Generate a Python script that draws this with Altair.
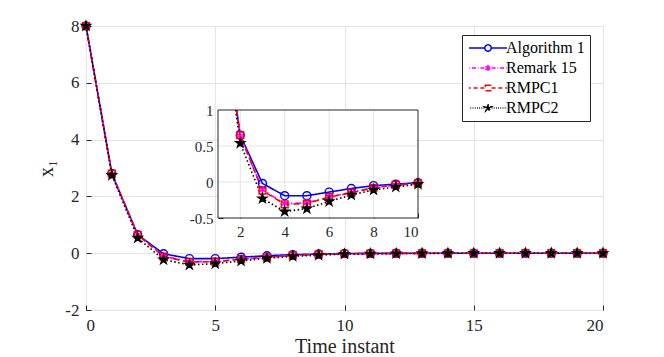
import altair as alt
import pandas as pd

t = list(range(21))
alg1 = [8, 2.80, 0.65, -0.02, -0.19, -0.19, -0.14, -0.09, -0.05, -0.03, -0.01,
        -0.006, -0.004, -0.002, -0.001, 0, 0, 0, 0, 0, 0]
remark15 = [8, 2.79, 0.64, -0.11, -0.30, -0.29, -0.21, -0.14, -0.08, -0.045, -0.02,
            -0.012, -0.007, -0.004, -0.002, -0.001, 0, 0, 0, 0, 0]
rmpc1 = [8, 2.80, 0.65, -0.12, -0.31, -0.30, -0.21, -0.15, -0.08, -0.04, -0.02,
         -0.012, -0.007, -0.004, -0.002, -0.001, 0, 0, 0, 0, 0]
rmpc2 = [8, 2.75, 0.54, -0.23, -0.41, -0.37, -0.27, -0.18, -0.11, -0.07, -0.03,
         -0.02, -0.012, -0.007, -0.004, -0.002, -0.001, 0, 0, 0, 0]

names = ["Algorithm 1", "Remark 15", "RMPC1", "RMPC2"]
colors = ["#0000ff", "#ff00ff", "#ff0000", "#000000"]
dashes = [[1, 0], [6, 3, 1.5, 3], [6, 4], [1.5, 2.5]]
fills = ["transparent", "transparent", "transparent", "#000000"]

inset_x_domain = [1, 10]
inset_y_domain = [-0.5, 1]
inset_xticks = [2, 4, 6, 8, 10]
inset_yticks = [-0.5, 0, 0.5, 1]


def marker_paths(k):
    star_pts = [(0, -1.15), (0.26, -0.36), (1.09, -0.36), (0.42, 0.14), (0.68, 0.93),
                (0, 0.44), (-0.68, 0.93), (-0.42, 0.14), (-1.09, -0.36), (-0.26, -0.36)]
    star = "M" + "L".join(f"{x * k:.3f},{y * k:.3f}" for x, y in star_pts) + "Z"
    a = 0.87 * k
    h = 0.5 * k
    asterisk = (f"M0,{-k:.3f}L0,{k:.3f}M{-a:.3f},{-h:.3f}L{a:.3f},{h:.3f}"
                f"M{-a:.3f},{h:.3f}L{a:.3f},{-h:.3f}")
    q = 0.85 * k
    square = f"M{-q:.3f},{-q:.3f}L{q:.3f},{-q:.3f}L{q:.3f},{q:.3f}L{-q:.3f},{q:.3f}Z"
    circle = f"M{k:.3f},0A{k:.3f},{k:.3f},0,1,1,{-k:.3f},0A{k:.3f},{k:.3f},0,1,1,{k:.3f},0Z"
    return [circle, asterisk, square, star]


markers = marker_paths(1.0)
leg_markers = marker_paths(0.8)


def seg_path(pattern, half=4.75, gap_in=0.9):
    out = []
    for sign in (-1, 1):
        pos = gap_in
        i = 0
        while pos < half:
            ln = pattern[i % len(pattern)]
            end = min(pos + ln, half)
            if i % 2 == 0:
                a, b = sign * pos, sign * end
                out.append(f"M{a:.2f},0L{b:.2f},0")
            pos = end
            i += 1
    return "".join(out)


leg_patterns = [[10, 0], [1.0, 0.45, 0.2, 0.45], [1.0, 0.7], [0.2, 0.35]]
legend_shapes = [seg_path(p) + m for p, m in zip(leg_patterns, leg_markers)]

series = [alg1, remark15, rmpc1, rmpc2]
rows = []
for n, vals in zip(names, series):
    for ti, v in zip(t, vals):
        rows.append({"t": ti, "v": v, "s": n, "d": n})
df = pd.DataFrame(rows)

irows = []
for n, vals in zip(names, series):
    y1, y2 = vals[1], vals[2]
    tc = 1 + (y1 - inset_y_domain[1]) / (y1 - y2)
    irows.append({"t": tc, "v": inset_y_domain[1], "s": n, "d": n, "m": False})
    for ti, v in zip(t[2:11], vals[2:11]):
        irows.append({"t": ti, "v": v, "s": n, "d": n, "m": True})
idf = pd.DataFrame(irows)

FONT = "Liberation Serif"
W, H = 517, 284
GRID = "#e4e4e4"
AX = "#262626"
LBL = "datum.value + ''"
TK = 5

stroke_scale = alt.Scale(domain=names, range=colors)
dash_scale = alt.Scale(domain=names, range=dashes)
shape_scale = alt.Scale(domain=names, range=legend_shapes)
fill_scale = alt.Scale(domain=names, range=fills)

leg = alt.Legend(title=None, orient="none", legendX=376, legendY=9)

mx = alt.Scale(domain=[0, 20], nice=False)
my = alt.Scale(domain=[-2, 8], nice=False)
main_xaxis = alt.Axis(values=[0, 5, 10, 15, 20], title="Time instant", titlePadding=3,
                      labelFont=FONT, labelFontSize=17, labelExpr=LBL,
                      offset=-TK, ticks=True, tickSize=TK, tickColor=AX)
main_yaxis = alt.Axis(values=[-2, 0, 2, 4, 6, 8], title="x₁", titlePadding=8,
                      labelFont=FONT, labelFontSize=17, labelExpr=LBL,
                      offset=-TK, ticks=True, tickSize=TK, tickColor=AX)

main_line = alt.Chart(df).mark_line(strokeWidth=1.6).encode(
    x=alt.X("t:Q", scale=mx, axis=main_xaxis),
    y=alt.Y("v:Q", scale=my, axis=main_yaxis),
    stroke=alt.Stroke("s:N", scale=stroke_scale, legend=leg),
    strokeDash=alt.StrokeDash("d:N", scale=dash_scale, legend=None),
    detail="s:N",
)

MS = 64
pt_layers = []
for n, c, m, f in zip(names, colors, markers, fills):
    pt_layers.append(
        alt.Chart(df).transform_filter(alt.datum.s == n).mark_point(
            shape=m, size=MS, stroke=c, fill=f,
            strokeWidth=1.4, opacity=1, filled=(n == "RMPC2")).encode(
            x=alt.X("t:Q", scale=mx, axis=main_xaxis),
            y=alt.Y("v:Q", scale=my, axis=main_yaxis),
        )
    )

legend_layer = alt.Chart(df).transform_filter("datum.t > 100").mark_point(
    strokeWidth=1.5, opacity=1).encode(
    x=alt.X("t:Q", scale=mx, axis=main_xaxis),
    y=alt.Y("v:Q", scale=my, axis=main_yaxis),
    stroke=alt.Stroke("s:N", scale=stroke_scale, legend=leg),
    shape=alt.Shape("s:N", scale=shape_scale, legend=leg),
    fill=alt.Fill("s:N", scale=fill_scale, legend=leg),
)

main = alt.layer(main_line, *pt_layers, legend_layer)

ix = alt.Scale(domain=inset_x_domain, range=[132, 332], nice=False)
iy = alt.Scale(domain=inset_y_domain, range=[192, 84], nice=False)
ixaxis = alt.Axis(orient="bottom", offset=-92 - TK, values=inset_xticks, grid=False,
                  domain=False, ticks=True, tickSize=TK, tickColor=AX,
                  labelPadding=6, title=None,
                  labelFont=FONT, labelFontSize=15, labelExpr=LBL)
iyaxis = alt.Axis(orient="left", offset=-132 - TK, values=inset_yticks, grid=False,
                  domain=False, ticks=True, tickSize=TK, tickColor=AX,
                  labelPadding=5, title=None,
                  labelFont=FONT, labelFontSize=15, labelExpr=LBL)

box_df = pd.DataFrame({"x": [inset_x_domain[0]], "x2": [inset_x_domain[1]],
                       "y": [inset_y_domain[0]], "y2": [inset_y_domain[1]]})
inset_bg = alt.Chart(box_df).mark_rect(fill="white").encode(
    x=alt.X("x:Q", scale=ix, axis=ixaxis), x2="x2:Q",
    y=alt.Y("y:Q", scale=iy, axis=iyaxis), y2="y2:Q",
)

gx_df = pd.DataFrame({"x": [2, 4, 6, 8], "y": [inset_y_domain[0]] * 4,
                      "y2": [inset_y_domain[1]] * 4})
gy_df = pd.DataFrame({"y": [0, 0.5], "x": [inset_x_domain[0]] * 2,
                      "x2": [inset_x_domain[1]] * 2})
inset_gx = alt.Chart(gx_df).mark_rule(color=GRID, strokeWidth=1).encode(
    x=alt.X("x:Q", scale=ix, axis=ixaxis), y=alt.Y("y:Q", scale=iy, axis=iyaxis),
    y2="y2:Q")
inset_gy = alt.Chart(gy_df).mark_rule(color=GRID, strokeWidth=1).encode(
    y=alt.Y("y:Q", scale=iy, axis=iyaxis), x=alt.X("x:Q", scale=ix, axis=ixaxis),
    x2="x2:Q")

inset_line = alt.Chart(idf).mark_line(strokeWidth=1.6).encode(
    x=alt.X("t:Q", scale=ix, axis=ixaxis),
    y=alt.Y("v:Q", scale=iy, axis=iyaxis),
    stroke=alt.Stroke("s:N", scale=stroke_scale, legend=leg),
    strokeDash=alt.StrokeDash("d:N", scale=dash_scale, legend=None),
    detail="s:N",
)
ipt_layers = []
for n, c, m, f in zip(names, colors, markers, fills):
    ipt_layers.append(
        alt.Chart(idf).transform_filter(alt.datum.m).transform_filter(alt.datum.s == n)
        .mark_point(shape=m, size=MS, stroke=c, fill=f,
                    strokeWidth=1.4, opacity=1, filled=(n == "RMPC2")).encode(
            x=alt.X("t:Q", scale=ix, axis=ixaxis),
            y=alt.Y("v:Q", scale=iy, axis=iyaxis),
        )
    )
inset_frame = alt.Chart(box_df).mark_rect(fill="transparent", stroke=AX,
                                          strokeWidth=1).encode(
    x=alt.X("x:Q", scale=ix, axis=ixaxis), x2="x2:Q",
    y=alt.Y("y:Q", scale=iy, axis=iyaxis), y2="y2:Q")

inset = alt.layer(inset_bg, inset_gx, inset_gy, inset_line, *ipt_layers, inset_frame)

chart = alt.layer(main, inset).resolve_scale(x="independent", y="independent").properties(
    width=W, height=H,
    autosize=alt.AutoSizeParams(type="none"),
    padding={"left": 78, "top": 18, "right": 10, "bottom": 45},
).configure_view(stroke=AX, strokeWidth=1).configure(
    background="white"
).configure_axis(
    labelFont=FONT, labelFontSize=17, labelColor=AX, labelPadding=7,
    titleFont=FONT, titleFontSize=20, titleFontWeight="normal", titleColor=AX,
    grid=True, gridColor=GRID, domain=False,
).configure_legend(
    labelFont=FONT, labelFontSize=16, labelColor="#000", labelLimit=300,
    symbolSize=64, symbolStrokeWidth=1.5, symbolOffset=13, labelOffset=10,
    fillColor="white", strokeColor=AX, padding=5, rowPadding=4,
)

chart.save("out.html", embed_options={"renderer": "svg", "actions": False})
